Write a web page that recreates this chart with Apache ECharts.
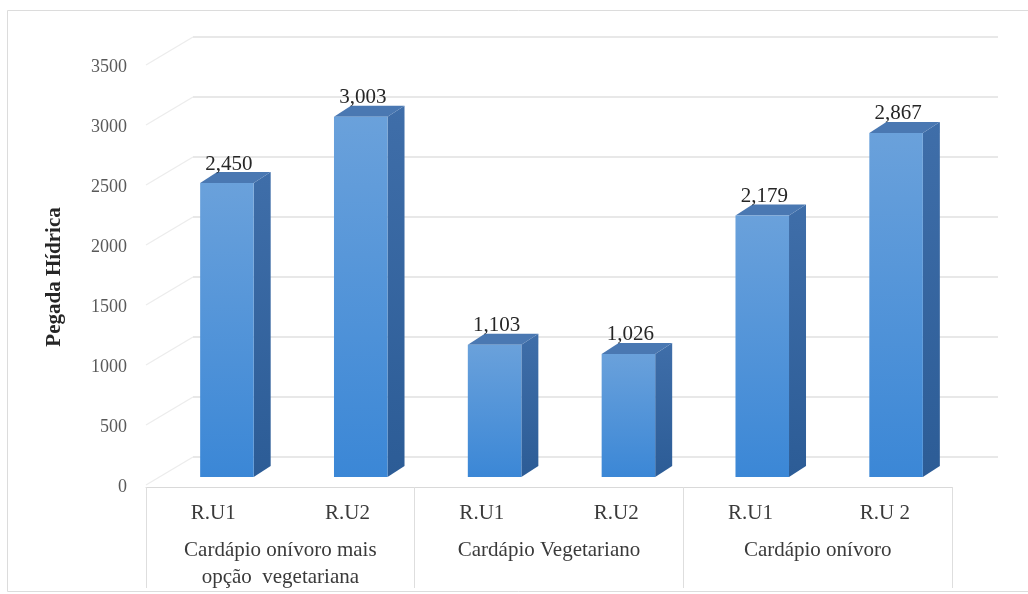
<!DOCTYPE html>
<html>
<head>
<meta charset="utf-8">
<script src="https://cdn.jsdelivr.net/npm/echarts@6/dist/echarts.min.js"></script>
<style>
  html, body { margin: 0; padding: 0; background: #fff; }
  #chart { width: 1028px; height: 594px; }
</style>
</head>
<body>
<div id="chart"></div>
<script>
// Water footprint per restaurant unit and menu type
const categories = ['R.U1', 'R.U2', 'R.U1', 'R.U2', 'R.U1', 'R.U 2'];
const groups = ['Cardápio onívoro mais\nopção  vegetariana', 'Cardápio Vegetariano', 'Cardápio onívoro'];
const values = [2450, 3003, 1103, 1026, 2179, 2867];
const yTicks = [0, 500, 1000, 1500, 2000, 2500, 3000, 3500];
const yTitle = 'Pegada Hídrica';

const SERIF = "'Liberation Serif', 'Times New Roman', serif";
// perspective offsets: bar depth and back-wall offset from the front plane
const DX = 17, DY = -11;
const WALL_DX = 47, WALL_DY = -30;

const chart = echarts.init(document.getElementById('chart'));

function fmt(v) { return v.toLocaleString('en-US'); }

const option = {
  animation: false,
  backgroundColor: '#ffffff',
  graphic: [{
    type: 'rect',
    shape: { x: 7.5, y: 10.5, width: 1030, height: 581 },
    style: { fill: 'none', stroke: '#dcdcdc', lineWidth: 1 },
    z: -10
  }],
  grid: [
    // plane where the bar front faces stand
    { left: 160, right: 65, top: 57, bottom: 117 },
    // front edge of the floor, carries the axis texts
    { left: 146, right: 76, top: 67, bottom: 107 }
  ],
  xAxis: [
    { type: 'category', gridIndex: 0, data: categories, show: false },
    {
      type: 'category', gridIndex: 1, data: categories, position: 'bottom',
      axisLine: { show: true, lineStyle: { color: '#d9d9d9', width: 1 } },
      axisTick: { show: false },
      axisLabel: { margin: 16, fontFamily: SERIF, fontSize: 21, color: '#3a3a3a', lineHeight: 21 },
      splitLine: { show: false }
    },
    {
      type: 'category', gridIndex: 1, data: groups, position: 'bottom',
      axisLine: { show: false },
      axisTick: { show: true, length: 101, lineStyle: { color: '#dedede', width: 1 } },
      axisLabel: { margin: 50, fontFamily: SERIF, fontSize: 21, color: '#3a3a3a', lineHeight: 27 },
      splitLine: { show: false }
    }
  ],
  yAxis: [
    { type: 'value', gridIndex: 0, min: 0, max: 3500, interval: 500, show: false },
    {
      type: 'value', gridIndex: 1, min: 0, max: 3500, interval: 500,
      axisLine: { show: false }, axisTick: { show: false }, splitLine: { show: false },
      axisLabel: {
        margin: 19, fontFamily: SERIF, fontSize: 18, color: '#595959',
        customValues: yTicks, formatter: function (v) { return String(v); }
      },
      name: yTitle, nameLocation: 'middle', nameRotate: 90, nameGap: 81,
      nameTextStyle: { fontFamily: SERIF, fontSize: 21, fontWeight: 'bold', color: '#262626' }
    }
  ],
  series: [
    {
      // gridlines running from the front edge back along the wall
      type: 'custom', name: 'wall', xAxisIndex: 1, yAxisIndex: 1, silent: true, z: 1,
      data: yTicks.map(v => [0, v]),
      renderItem: function (params, api) {
        const cs = params.coordSys;
        const y = api.coord([0, api.value(1)])[1];
        const x0 = cs.x;
        const xb = cs.x + WALL_DX, yb = y + WALL_DY;
        const xr = cs.x + cs.width + WALL_DX - 1;
        return {
          type: 'group',
          children: [
            { type: 'line', shape: { x1: x0, y1: y - 2, x2: xb, y2: yb }, style: { stroke: '#ececec', lineWidth: 1.2 } },
            { type: 'line', shape: { x1: xb, y1: yb, x2: xr, y2: yb }, style: { stroke: '#e0e0e0', lineWidth: 1.5 } }
          ]
        };
      }
    },
    {
      type: 'custom', name: yTitle, xAxisIndex: 0, yAxisIndex: 0, z: 5,
      data: values.map((v, i) => [i, v]),
      renderItem: function (params, api) {
        const i = api.value(0), v = api.value(1);
        const top = api.coord([i, v]);
        const base = api.coord([i, 0]);
        const w = api.size([1, 0])[0] * 0.4;
        const x0 = top[0] - w / 2, x1 = top[0] + w / 2;
        const yT = top[1], yB = base[1];
        return {
          type: 'group',
          children: [
            {
              type: 'polygon',
              shape: { points: [[x1, yT], [x1 + DX, yT + DY], [x1 + DX, yB + DY], [x1, yB]] },
              style: { fill: new echarts.graphic.LinearGradient(0, 0, 0, 1, [
                { offset: 0, color: '#3f6ea9' }, { offset: 1, color: '#2c5c96' }]) }
            },
            {
              type: 'polygon',
              shape: { points: [[x0, yT], [x0 + DX, yT + DY], [x1 + DX, yT + DY], [x1, yT]] },
              style: { fill: '#4a78b2' }
            },
            {
              type: 'rect',
              shape: { x: x0, y: yT, width: w, height: yB - yT },
              style: { fill: new echarts.graphic.LinearGradient(0, 0, 0, 1, [
                { offset: 0, color: '#6aa1db' }, { offset: 1, color: '#3b87d6' }]) }
            },
            {
              type: 'text',
              style: {
                x: top[0] + 2, y: yT - 19, text: fmt(v),
                align: 'center', verticalAlign: 'middle',
                font: '21px ' + SERIF, fill: '#262626'
              }
            }
          ]
        };
      }
    }
  ]
};

chart.setOption(option);
</script>
</body>
</html>
